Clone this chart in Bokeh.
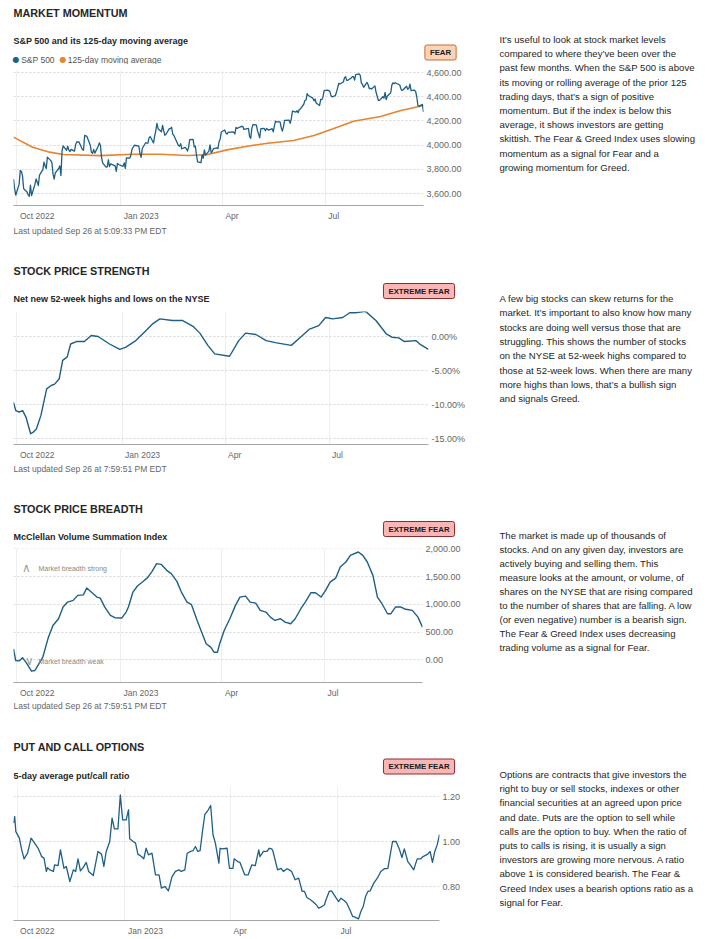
import pandas as pd
from bokeh.plotting import figure
from bokeh.models import Label, FixedTicker, NumeralTickFormatter, PrintfTickFormatter, Range1d
from bokeh.layouts import column, row
from bokeh.embed import file_html
from bokeh.resources import INLINE

# ---------------------------------------------------------------- data
DAY0 = "2022-10-01"            # the *_day arrays count days from this date
X_START = "2022-09-28"
X_END = "2023-09-26"

month_ticks = ["2022-10-01", "2023-01-01", "2023-04-01", "2023-07-01"]
month_labels = ["Oct 2022", "Jan 2023", "Apr", "Jul"]

market_holidays = ["2022-11-24", "2022-12-26", "2023-01-02", "2023-01-16", "2023-02-20",
                   "2023-04-07", "2023-05-29", "2023-06-19", "2023-07-04", "2023-09-04"]

# S&P 500 daily closes (one per trading day, from Sep 28 2022)
sp500_2022_09 = [3719, 3640, 3586]
sp500_2022_10 = [3678, 3791, 3783, 3744, 3640, 3612, 3589, 3577, 3669, 3583, 3677, 3720, 3695, 3666,
                 3752, 3797, 3859, 3830, 3807, 3901, 3872]
sp500_2022_11 = [3856, 3760, 3720, 3771, 3807, 3828, 3749, 3956, 3993, 3957, 3992, 3959, 3947, 3965,
                 3950, 4003, 4027, 4026, 3964, 3958, 4080]
sp500_2022_12 = [4076, 4072, 3999, 3941, 3933, 3964, 3934, 3991, 4019, 3996, 3896, 3852, 3818, 3821,
                 3879, 3823, 3845, 3829, 3783, 3849, 3840]
sp500_2023_01 = [3825, 3853, 3808, 3895, 3893, 3919, 3970, 3983, 3999, 3991, 3929, 3899, 3972, 4020,
                 4017, 4016, 4060, 4071, 4018, 4077]
sp500_2023_02 = [4119, 4180, 4136, 4111, 4164, 4118, 4082, 4090, 4137, 4136, 4148, 4090, 4079, 3997,
                 3991, 4012, 3970, 3982, 3970]
sp500_2023_03 = [3951, 3982, 4045, 4048, 3986, 3992, 3918, 3862, 3855, 3920, 3892, 3960, 3917, 3951,
                 4002, 3937, 3949, 3971, 3977, 3971, 4028, 4051, 4109]
sp500_2023_04 = [4125, 4101, 4091, 4105, 4109, 4108, 4092, 4146, 4138, 4152, 4154, 4155, 4130, 4133,
                 4138, 4072, 4056, 4136, 4169]
sp500_2023_05 = [4168, 4120, 4091, 4061, 4136, 4138, 4119, 4138, 4130, 4124, 4136, 4110, 4159, 4198,
                 4192, 4193, 4146, 4116, 4151, 4205, 4206, 4180]
sp500_2023_06 = [4221, 4282, 4273, 4284, 4268, 4294, 4299, 4338, 4369, 4373, 4426, 4410, 4389, 4366,
                 4381, 4348, 4328, 4378, 4377, 4396, 4450]
sp500_2023_07 = [4455, 4447, 4412, 4399, 4410, 4439, 4473, 4510, 4505, 4522, 4555, 4566, 4535, 4536,
                 4555, 4567, 4567, 4538, 4582, 4589]
sp500_2023_08 = [4577, 4513, 4502, 4478, 4518, 4499, 4468, 4469, 4464, 4490, 4437, 4404, 4370, 4370,
                 4400, 4388, 4436, 4376, 4406, 4433, 4498, 4515, 4508]
sp500_2023_09 = [4516, 4497, 4465, 4451, 4458, 4487, 4462, 4467, 4505, 4450, 4454, 4444, 4402, 4330,
                 4320, 4337, 4274]

ma125_day = [-3, 14, 29, 41, 73, 103, 127, 151, 168, 186, 204, 222, 245, 263, 280, 298, 322, 340, 360]
ma125_value = [4066, 3983, 3942, 3922, 3913, 3925, 3925, 3914, 3920, 3961, 3991, 4016, 4038, 4080,
               4135, 4198, 4237, 4286, 4328]

strength_day = [-3, -1, 2, 5, 8, 12, 14, 17, 21, 26, 30, 33, 37, 40, 44, 47, 52, 59, 65, 71, 81, 90,
                95, 104, 113, 119, 125, 136, 145, 154, 160, 167, 173, 186, 194, 200, 209, 218, 226,
                240, 248, 256, 264, 270, 276, 285, 291, 296, 305, 314, 323, 328, 334, 339, 349, 353, 360]
strength_pct = [-9.7, -10.9, -11.1, -10.9, -11.9, -14.3, -14.1, -13.6, -11.6, -7.7, -7.2, -7.0, -6.2,
                -3.5, -3.0, -1.1, -0.74, -0.74, 0.15, 0.0, -1.1, -1.9, -1.6, -0.6, 0.9, 1.9, 2.6, 2.35,
                2.35, 1.5, 0.5, -1.3, -2.55, -2.9, -0.6, 0.5, 0.3, -0.6, -0.9, -1.3, -0.1, 1.1, 1.6,
                2.8, 2.6, 2.8, 3.5, 3.5, 3.7, 2.35, 0.4, -0.1, -0.2, -0.74, -0.6, -1.2, -1.9]

breadth_day = [-3, -1, 2, 5, 8, 13, 16, 19, 23, 28, 32, 37, 41, 45, 50, 54, 59, 62, 66, 71, 74, 78,
               83, 87, 93, 97, 99, 103, 107, 112, 116, 120, 124, 128, 133, 137, 142, 146, 151, 155,
               160, 164, 168, 172, 175, 178, 180, 184, 189, 194, 198, 203, 207, 212, 216, 221, 225,
               229, 234, 238, 243, 247, 252, 256, 261, 265, 270, 274, 278, 283, 287, 292, 296, 303,
               307, 311, 316, 320, 324, 329, 332, 336, 341, 345, 351, 356, 360]
breadth_value = [198, -13, -20, 36, -43, -205, -193, -90, 47, 408, 619, 740, 950, 1040, 1070, 1160,
                 1170, 1293, 1220, 1130, 1110, 950, 800, 758, 752, 860, 950, 1220, 1330, 1410, 1480,
                 1594, 1733, 1720, 1612, 1552, 1413, 1220, 1040, 993, 709, 498, 289, 228, 137, 137,
                 289, 529, 740, 980, 1130, 1148, 1040, 1022, 890, 860, 769, 709, 740, 679, 650, 740,
                 920, 1040, 1209, 1209, 1130, 1250, 1400, 1472, 1672, 1762, 1882, 1942, 1882, 1762,
                 1521, 1130, 1010, 830, 830, 950, 950, 910, 890, 769, 588]

pcr_day = [-3, -2, -1, 2, 4, 6, 9, 12, 15, 18, 21, 23, 25, 26, 28, 31, 32, 35, 37, 40, 42, 45, 48,
           50, 52, 54, 56, 59, 61, 65, 69, 72, 74, 76, 79, 81, 83, 86, 88, 90, 93, 95, 96, 99, 101,
           103, 106, 108, 110, 112, 115, 118, 121, 123, 126, 129, 132, 135, 138, 140, 143, 145, 148,
           150, 152, 154, 156, 158, 160, 163, 165, 167, 169, 172, 173, 175, 179, 181, 184, 185, 188,
           190, 194, 197, 200, 203, 206, 207, 210, 213, 215, 217, 218, 222, 225, 227, 230, 232, 234,
           237, 240, 243, 245, 247, 250, 252, 255, 257, 259, 262, 263, 266, 268, 272, 274, 276, 279,
           281, 284, 286, 288, 291, 293, 295, 297, 299, 301, 304, 307, 310, 313, 316, 318, 320, 323,
           326, 328, 330, 333, 336, 338, 341, 344, 346, 350, 352, 354, 356, 358, 360]
pcr_value = [1.082, 1.111, 1.044, 1.015, 0.963, 0.923, 0.948, 1.015, 0.993, 0.970,
             0.933, 0.926, 0.867, 0.884, 0.874, 0.867, 0.896, 0.893, 0.963, 0.881,
             0.889, 0.822, 0.874, 0.867, 0.923, 0.870, 0.882, 0.907, 0.867, 0.849,
             0.956, 0.944, 0.889, 0.956, 1.000, 1.104, 1.056, 1.056, 1.207, 1.096,
             1.096, 1.141, 1.012, 1.000, 0.993, 0.944, 0.933, 0.923, 0.970, 0.941,
             0.948, 0.852, 0.852, 0.793, 0.800, 0.781, 0.843, 0.867, 0.874, 0.867,
             0.874, 0.948, 0.956, 0.959, 0.978, 0.956, 0.959, 1.044, 1.119, 1.141,
             1.160, 1.030, 0.993, 0.904, 0.970, 0.967, 0.970, 0.881, 0.881, 0.923,
             0.911, 0.907, 0.852, 0.852, 0.896, 0.893, 0.963, 0.933, 0.956, 0.956,
             0.970, 0.967, 0.959, 0.874, 0.881, 0.867, 0.879, 0.874, 0.867, 0.830,
             0.837, 0.778, 0.778, 0.751, 0.741, 0.733, 0.719, 0.704, 0.708, 0.719,
             0.737, 0.778, 0.781, 0.748, 0.733, 0.748, 0.737, 0.726, 0.692, 0.667,
             0.664, 0.656, 0.689, 0.711, 0.756, 0.778, 0.781, 0.815, 0.837, 0.867,
             0.879, 0.881, 0.941, 1.000, 1.000, 0.963, 0.929, 0.967, 0.911, 0.889,
             0.874, 0.923, 0.923, 0.933, 0.944, 0.956, 0.907, 0.956, 0.985, 1.030]

desc_momentum = [
    "It’s useful to look at stock market levels",
    "compared to where they’ve been over the",
    "past few months. When the S&P 500 is above",
    "its moving or rolling average of the prior 125",
    "trading days, that’s a sign of positive",
    "momentum. But if the index is below this",
    "average, it shows investors are getting",
    "skittish. The Fear & Greed Index uses slowing",
    "momentum as a signal for Fear and a",
    "growing momentum for Greed.",
]
desc_strength = [
    "A few big stocks can skew returns for the",
    "market. It’s important to also know how many",
    "stocks are doing well versus those that are",
    "struggling. This shows the number of stocks",
    "on the NYSE at 52-week highs compared to",
    "those at 52-week lows. When there are many",
    "more highs than lows, that’s a bullish sign",
    "and signals Greed.",
]
desc_breadth = [
    "The market is made up of thousands of",
    "stocks. And on any given day, investors are",
    "actively buying and selling them. This",
    "measure looks at the amount, or volume, of",
    "shares on the NYSE that are rising compared",
    "to the number of shares that are falling. A low",
    "(or even negative) number is a bearish sign.",
    "The Fear & Greed Index uses decreasing",
    "trading volume as a signal for Fear.",
]
desc_options = [
    "Options are contracts that give investors the",
    "right to buy or sell stocks, indexes or other",
    "financial securities at an agreed upon price",
    "and date. Puts are the option to sell while",
    "calls are the option to buy. When the ratio of",
    "puts to calls is rising, it is usually a sign",
    "investors are growing more nervous. A ratio",
    "above 1 is considered bearish. The Fear &",
    "Greed Index uses a bearish options ratio as a",
    "signal for Fear.",
]

# ---------------------------------------------------------------- style
L = 480              # width of the left (chart) column
RW = 713 - L         # width of the right (description) column
FONT = "Liberation Sans"
BLUE = "#1d5f86"
ORANGE = "#e8832f"
TXT = "#262626"
GRAY = "#666666"
FEAR_FILL, FEAR_EDGE = "#fdd3b5", "#c0703a"
XFEAR_FILL, XFEAR_EDGE = "#f8b6b6", "#8e2a2a"


def ms(d):
    return pd.Timestamp(d).value / 1e6


def from_day(days):
    return pd.Timestamp(DAY0) + pd.to_timedelta(pd.Series(days), unit="D")


def txt(p, x, y, s, size, color=TXT, bold=False, align="left", font=FONT):
    p.add_layout(Label(x=x, y=y, x_units="canvas", y_units="canvas", text=s,
                       text_font=font, text_font_size=f"{size}px", text_color=color,
                       text_font_style="bold" if bold else "normal",
                       text_align=align, text_baseline="middle"))


def text_fig(w, h, x_range=None, left=0, right=0):
    p = figure(width=w, height=h, x_axis_location=None, y_axis_location=None,
               x_range=x_range if x_range is not None else Range1d(0, 1), y_range=Range1d(0, 1),
               output_backend="svg", toolbar_location=None, title=None,
               min_border_left=left, min_border_right=right, min_border_top=0, min_border_bottom=0)
    p.frame_align = False
    p.grid.visible = False
    p.outline_line_color = None
    return p


def header(h, title, title_y, subtitle, sub_y, badge, badge_xy, fill, edge):
    p = text_fig(L, h)
    txt(p, 13, title_y, title, 10.8, TXT, bold=True)
    txt(p, 13, sub_y, subtitle, 9, TXT, bold=True)
    p.add_layout(Label(x=badge_xy[0], y=badge_xy[1], x_units="canvas", y_units="canvas",
                       text=badge, text_font=FONT, text_font_size="7.8px",
                       text_font_style="bold", text_color="#1a1a1a", text_align="center",
                       text_baseline="middle", background_fill_color=fill,
                       border_line_color=edge, border_line_width=1,
                       padding=dict(left=5, right=5, top=3, bottom=3), border_radius=2))
    return p


def chart(h, top, bottom, frame_right, yr, yticks, fmt, xr):
    p = figure(width=L, height=h, x_axis_type="datetime", y_axis_location="right",
               x_range=xr, y_range=Range1d(*yr),
               output_backend="svg", toolbar_location=None, title=None,
               min_border_left=13, min_border_right=L - frame_right,
               min_border_top=top, min_border_bottom=bottom)
    p.frame_align = False
    p.outline_line_color = None
    xa = p.xaxis[0]
    xa.ticker = FixedTicker(ticks=[])
    xa.axis_line_color = "#a6a6a6"
    xa.major_tick_line_color = None
    xa.minor_tick_line_color = None
    xa.major_tick_out = 0
    xa.major_tick_in = 0
    xa.major_label_standoff = 0
    ya = p.yaxis[0]
    ya.ticker = FixedTicker(ticks=yticks)
    ya.formatter = fmt
    ya.axis_line_color = None
    ya.major_tick_line_color = None
    ya.minor_tick_line_color = None
    ya.major_tick_out = 0
    ya.major_tick_in = 0
    ya.major_label_standoff = 3
    ya.major_label_text_font = FONT
    ya.major_label_text_font_size = "9px"
    ya.major_label_text_color = GRAY
    p.xgrid.ticker = FixedTicker(ticks=[ms(d) for d in month_ticks])
    p.xgrid.grid_line_color = "#eeeeee"
    p.ygrid.ticker = FixedTicker(ticks=yticks)
    p.ygrid.grid_line_color = "#d6d6d6"
    p.ygrid.grid_line_dash = "2 2"
    return p


def footer(h, frame_right, xr, xlab_y, updated=None, upd_y=None):
    p = text_fig(L, h, x_range=xr, left=13, right=L - frame_right)
    for d, s in zip(month_ticks, month_labels):
        p.add_layout(Label(x=ms(d), y=xlab_y, x_units="data", y_units="canvas", x_offset=3,
                           text=s, text_font=FONT, text_font_size="8.5px", text_color=GRAY,
                           text_align="left", text_baseline="middle"))
    if updated:
        txt(p, 13, upd_y, updated, 8.5, GRAY)
    return p


# ---- panel 1: market momentum
xr1 = Range1d(ms(X_START), ms(X_END))
h1 = header(64, "MARKET MOMENTUM", 12, "S&P 500 and its 125-day moving average", 40,
            "FEAR", (440, 52), FEAR_FILL, FEAR_EDGE)
txt(h1, 15.5, 59, "●", 8, BLUE, align="center", font="DejaVu Sans")
txt(h1, 20.7, 59, "S&P 500", 8.5, "#555555")
txt(h1, 62.5, 59, "●", 8, ORANGE, align="center", font="DejaVu Sans")
txt(h1, 67.3, 59, "125-day moving average", 8.5, "#555555")
c1 = chart(146, 6, 5, 423, (3501, 4617), [3600, 3800, 4000, 4200, 4400, 4600],
           NumeralTickFormatter(format="0,0.00"), xr1)
sp_close = (sp500_2022_09 + sp500_2022_10 + sp500_2022_11 + sp500_2022_12 + sp500_2023_01 +
            sp500_2023_02 + sp500_2023_03 + sp500_2023_04 + sp500_2023_05 + sp500_2023_06 +
            sp500_2023_07 + sp500_2023_08 + sp500_2023_09)
sp_dates = pd.bdate_range(X_START, X_END, freq="C", holidays=market_holidays)
n = min(len(sp_dates), len(sp_close))
c1.line(from_day(ma125_day), ma125_value, line_color=ORANGE, line_width=1.6, line_join="round")
c1.line(sp_dates[:n], sp_close[:n], line_color=BLUE, line_width=1.3, line_join="round")
f1 = footer(30, 423, xr1, 5, "Last updated Sep 26 at 5:09:33 PM EDT", 20)

# ---- panel 2: stock price strength
xr2 = Range1d(ms(X_START), ms(X_END))
h2 = header(66, "STOCK PRICE STRENGTH", 30, "Net new 52-week highs and lows on the NYSE", 58,
            "EXTREME FEAR", (418.5, 50.5), XFEAR_FILL, XFEAR_EDGE)
c2 = chart(143, 5, 5, 428, (-15.88, 3.68), [-15, -10, -5, 0],
           PrintfTickFormatter(format="%.2f%%"), xr2)
c2.line(from_day(strength_day), strength_pct, line_color=BLUE, line_width=1.4, line_join="round")
f2 = footer(29, 428, xr2, 5, "Last updated Sep 26 at 7:59:51 PM EDT", 19)

# ---- panel 3: stock price breadth
xr3 = Range1d(ms(X_START), ms(X_END))
h3 = header(63, "STOCK PRICE BREADTH", 30, "McClellan Volume Summation Index", 58,
            "EXTREME FEAR", (418.5, 50.5), XFEAR_FILL, XFEAR_EDGE)
c3 = chart(146, 7, 5, 422, (-409, 2005), [0, 500, 1000, 1500, 2000],
           NumeralTickFormatter(format="0,0.00"), xr3)
txt(c3, 26, 26, "∧", 12, "#a0a0a0", align="center", font="DejaVu Sans")
txt(c3, 38, 27, "Market breadth strong", 7, "#888888")
txt(c3, 29, 119, "∨", 12, "#a0a0a0", align="center", font="DejaVu Sans")
txt(c3, 38, 120, "Market breadth weak", 7, "#888888")
c3.line(from_day(breadth_day), breadth_value, line_color=BLUE, line_width=1.4, line_join="round")
f3 = footer(29, 422, xr3, 5, "Last updated Sep 26 at 7:59:51 PM EDT", 18)

# ---- panel 4: put and call options
xr4 = Range1d(ms(X_START), ms(X_END))
h4 = header(66, "PUT AND CALL OPTIONS", 30, "5-day average put/call ratio", 59,
            "EXTREME FEAR", (418.5, 50), XFEAR_FILL, XFEAR_EDGE)
c4 = chart(143, 5, 5, 439, (0.649, 1.24), [0.8, 1.0, 1.2],
           NumeralTickFormatter(format="0.00"), xr4)
c4.line(from_day(pcr_day), pcr_value, line_color=BLUE, line_width=1.3, line_join="round")
f4 = footer(14, 439, xr4, 5)

# ---- right column: descriptions
rt = text_fig(RW, 939)
for lines, y0, step in [(desc_momentum, 39, 14.2), (desc_strength, 298, 14.3),
                        (desc_breadth, 535, 14.0), (desc_options, 774, 14.2)]:
    for i, s in enumerate(lines):
        txt(rt, 19, y0 + i * step, s, 9.6, TXT)

layout = row(column(h1, c1, f1, h2, c2, f2, h3, c3, f3, h4, c4, f4, spacing=0), rt, spacing=0)
with open("out.html", "w", encoding="utf-8") as f:
    f.write(file_html(layout, INLINE))
